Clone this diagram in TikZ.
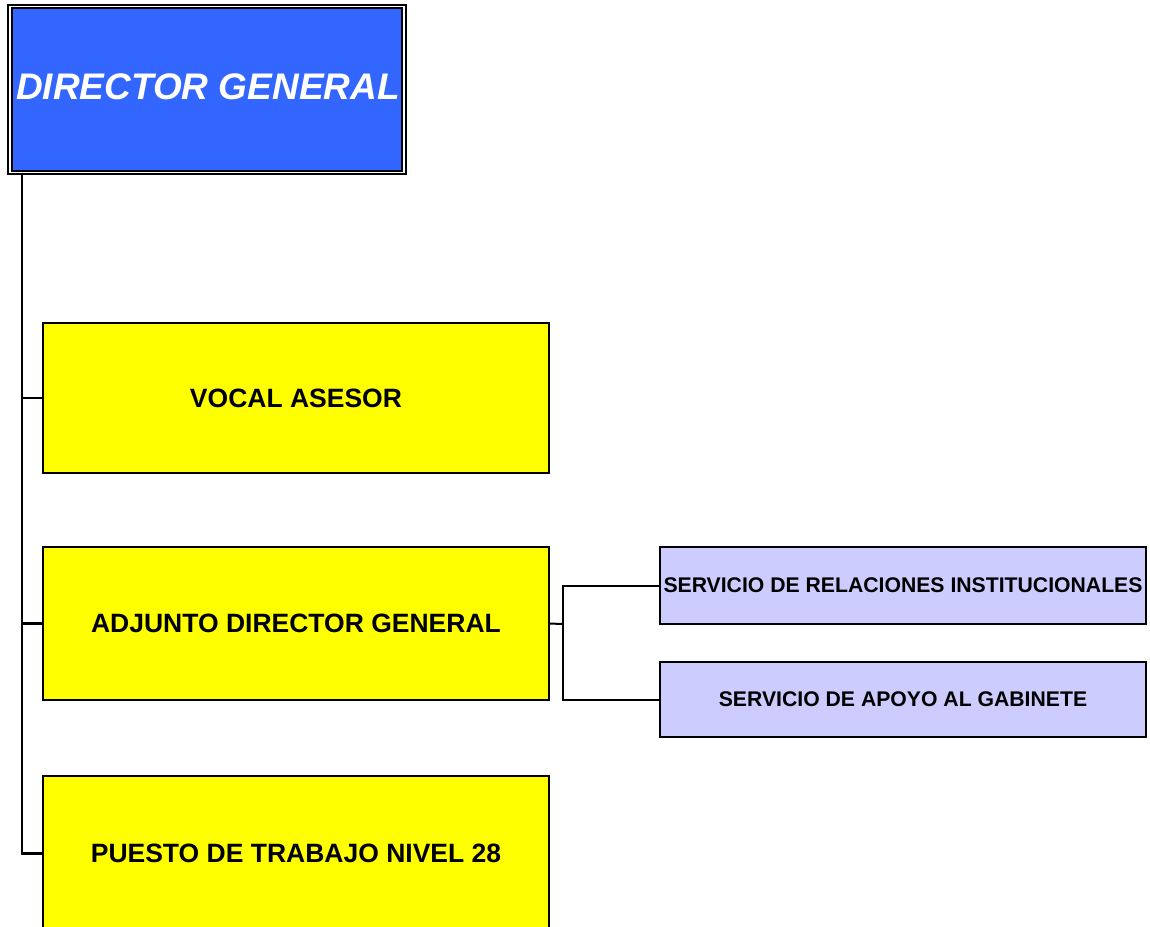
\documentclass[tikz,border=0pt]{standalone}
\usepackage{fontspec}
\setmainfont{Liberation Sans}
\definecolor{dirblue}{HTML}{3366FF}
\definecolor{boxyellow}{HTML}{FFFF00}
\definecolor{lavender}{HTML}{CCCCFF}
\tikzset{
  dirbox/.style={draw=black, line width=2pt, double=white, double distance=1.8pt,
    fill=dirblue, inner sep=0pt, outer sep=0pt, text=white,
    font=\fontsize{37}{40}\selectfont\bfseries\itshape},
  yelbox/.style={draw=black, line width=1.1pt, fill=boxyellow, inner sep=0pt, outer sep=0pt,
    minimum width=506pt, font=\fontsize{26.5}{30}\selectfont\bfseries},
  lavbox/.style={draw=black, line width=1.1pt, fill=lavender, inner sep=0pt, outer sep=0pt,
    minimum width=486pt, font=\fontsize{21.2}{24}\selectfont\bfseries},
  conn/.style={draw=black, line width=2.6pt},
  conn2/.style={draw=black, line width=2pt}
}
\begin{document}
\begin{tikzpicture}[x=1pt,y=-1pt]
\useasboundingbox (0,0) rectangle (1150,926);
\node[dirbox, minimum width=394.4pt, minimum height=166pt] (dir) at (207,89.5) {};
\node[text=white, font=\fontsize{37}{40}\selectfont\bfseries\itshape, inner sep=0pt] (dirtext) at (208,87) {DIRECTOR GENERAL};
\node[yelbox, minimum height=150pt] (vocal) at (296,398) {VOCAL ASESOR};
\node[yelbox, minimum height=153pt] (adj) at (296,623.5) {ADJUNTO DIRECTOR GENERAL};
\node[yelbox, minimum height=155pt] (puesto) at (296,853.5) {PUESTO DE TRABAJO NIVEL 28};
\node[lavbox, minimum height=77pt] (rel) at (903,585.5) {SERVICIO DE RELACIONES INSTITUCIONALES};
\node[lavbox, minimum height=75pt] (apo) at (903,699.5) {SERVICIO DE APOYO AL GABINETE};
\coordinate (trunk) at (22,175);
\coordinate (bus) at (563,624);
\draw[conn] (dir.south -| trunk) |- (puesto.west);
\draw[conn] (vocal.west -| trunk) -- (vocal.west);
\draw[conn] (adj.west -| trunk) -- (adj.west);
\draw[conn2] (adj.east) -- (bus);
\draw[conn2] (rel.west) -| (apo.west -| bus) -- (apo.west);
\end{tikzpicture}
\end{document}
